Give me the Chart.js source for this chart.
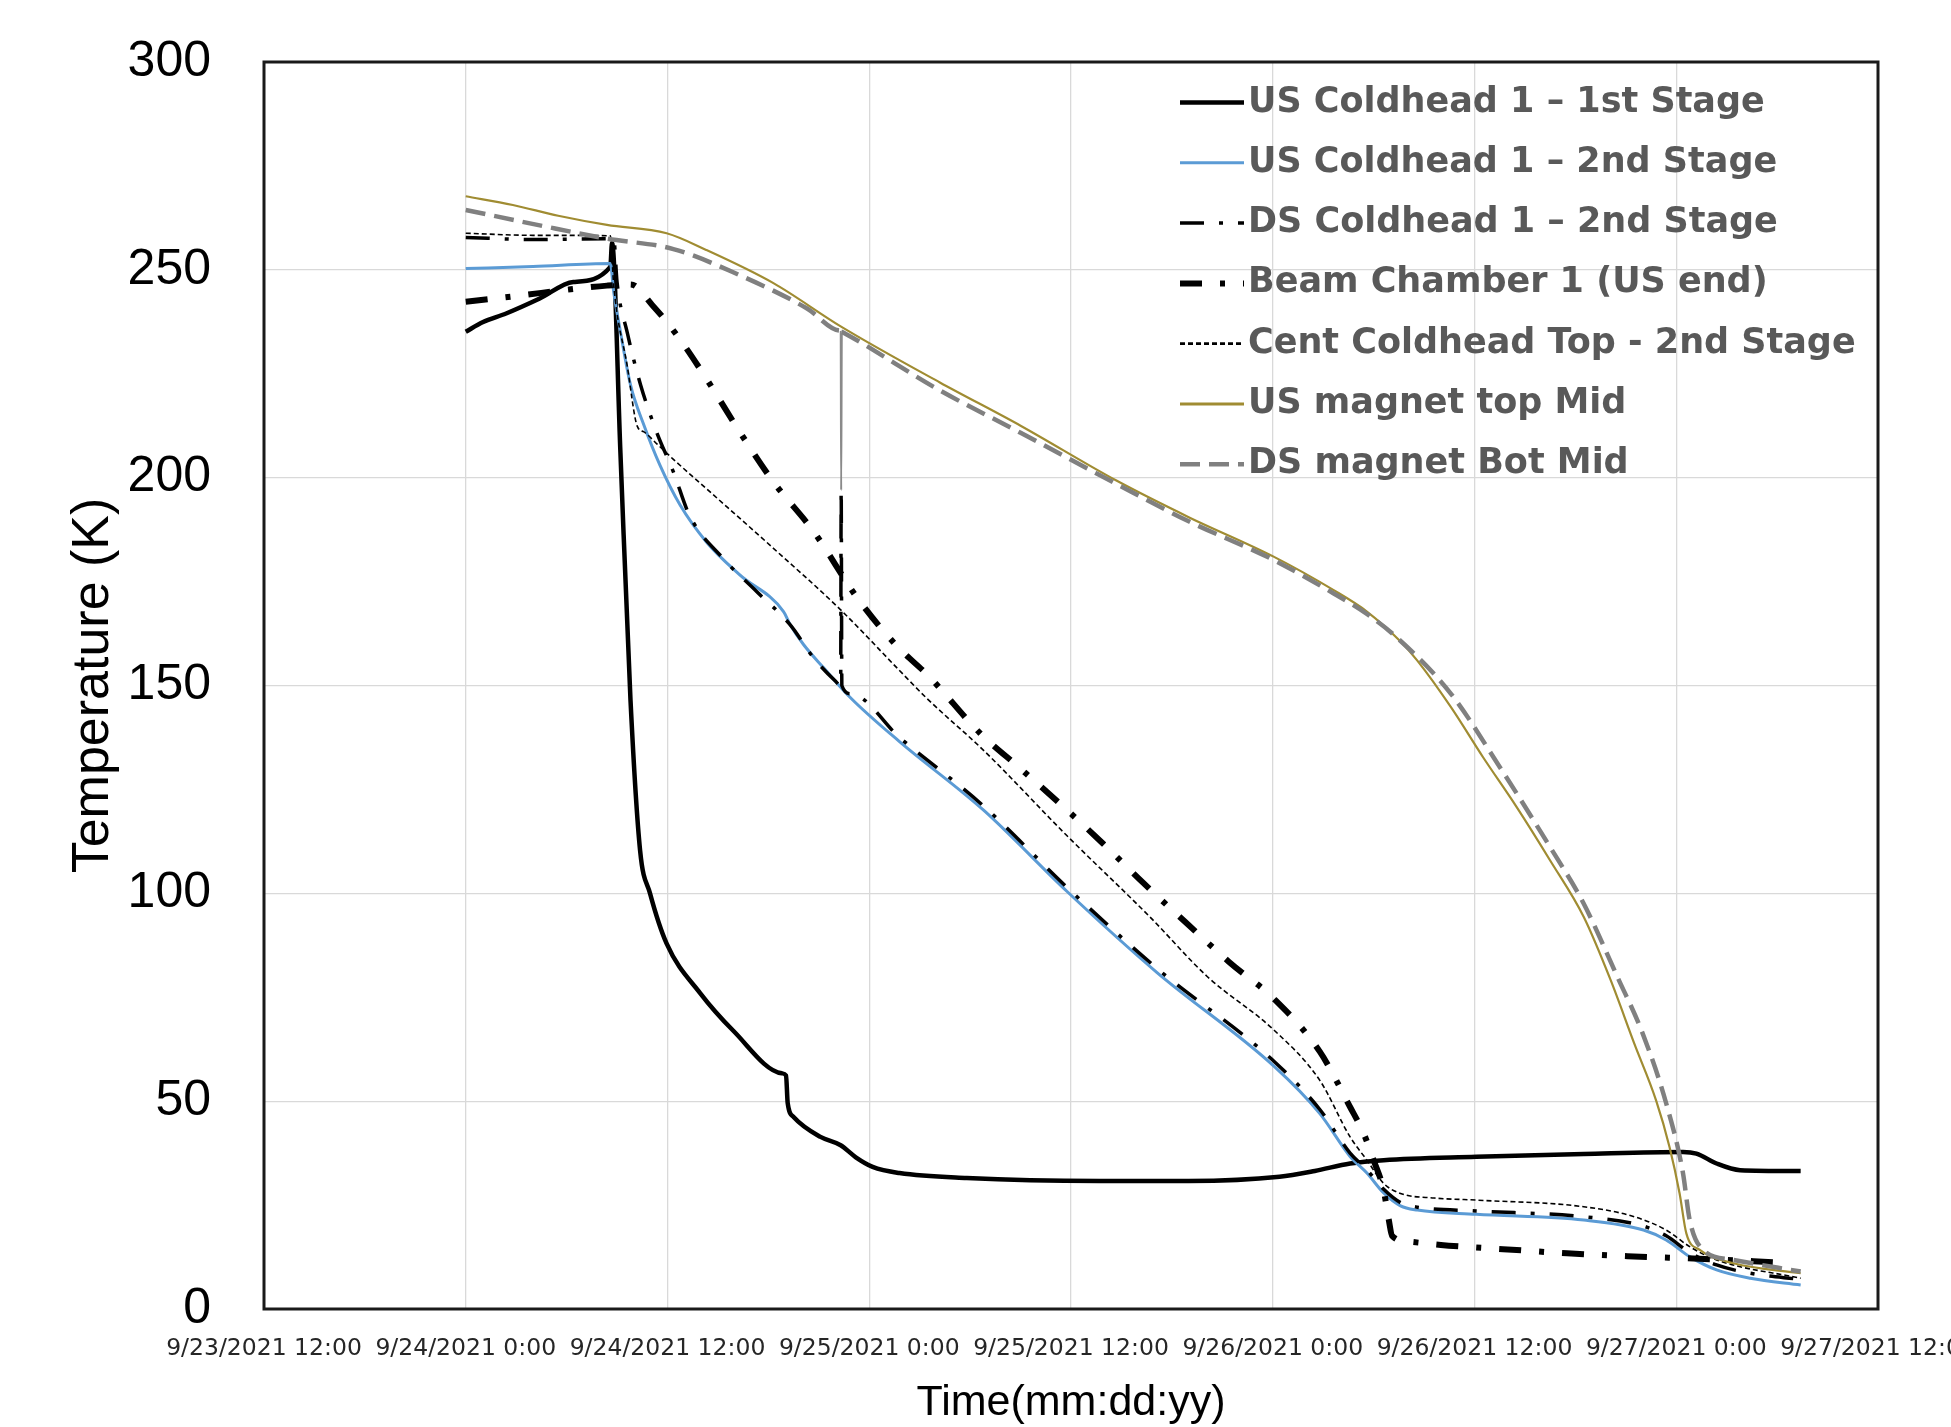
<!DOCTYPE html>
<html>
<head>
<meta charset="utf-8">
<title>Cooldown temperatures</title>
<script src="https://cdn.jsdelivr.net/npm/chart.js@4.4.1/dist/chart.umd.min.js"></script>
<style>
  html, body { margin: 0; padding: 0; background: #fff; overflow: hidden; }
  canvas { display: block; }
</style>
</head>
<body>
<canvas id="coolDownChart" width="1951" height="1427"></canvas>
<script>
// x = hours since 9/23/2021 12:00, y = temperature (K)
const xTickLabels = ['9/23/2021 12:00', '9/24/2021 0:00', '9/24/2021 12:00', '9/25/2021 0:00',
    '9/25/2021 12:00', '9/26/2021 0:00', '9/26/2021 12:00', '9/27/2021 0:00', '9/27/2021 12:00'];

const seriesNames = ['US Coldhead 1 \u2013 1st Stage', 'US Coldhead 1 \u2013 2nd Stage', 'DS Coldhead 1 \u2013 2nd Stage',
    'Beam Chamber 1 (US end)', 'Cent Coldhead Top - 2nd Stage', 'US magnet top Mid', 'DS magnet Bot Mid'];

const usColdhead1st = [[12, 235.1], [13, 237.4], [14.4, 239.5], [16.4, 243.1], [18.4, 247.1], [20.6, 250.7],
    [20.7, 256.5], [21.2, 206], [21.8, 146.4], [22.37, 110.3], [22.96, 100], [23.95, 87.9], [25.94, 76],
    [27.9, 67], [30.8, 56.7], [31.05, 56.2], [31.15, 49.5], [31.5, 46.2], [33.1, 41.4], [34.3, 39.4],
    [35.2, 36.5], [36.2, 34.2], [37.8, 32.7], [41.8, 31.5], [49.7, 30.8], [55, 30.8], [60.4, 31.8],
    [62.5, 33.2], [64.6, 35.0], [66.6, 35.8], [72.1, 36.6], [78.5, 37.3], [84.4, 37.8], [85.2, 37.4],
    [86.4, 35], [87.8, 33.4], [91.4, 33.2]];

const usColdhead2nd = [[12, 250.3], [16, 250.8], [20.6, 251.5], [20.8, 244.7], [21.2, 235.1], [21.8, 222.3],
    [22.6, 212.6], [23.55, 203], [24.75, 193.4], [26.3, 184.6], [28.3, 176.6], [30.9, 167.8], [31.3, 164.6],
    [32.1, 159.8], [33.3, 154.2], [34.9, 147], [37.8, 136.5], [42.8, 120], [47.75, 100.5], [53.1, 81],
    [60.1, 58.3], [62.8, 47], [64.6, 36.7], [65.6, 32.7], [66.6, 27.9], [67.6, 24.8], [68.6, 23.8],
    [72.1, 22.8], [78.5, 21.4], [82.05, 19], [83.4, 16.6], [84.8, 12.6], [86.4, 9.4], [88.4, 7.4], [91.4, 5.8]];

const dsColdhead2nd = [[12, 257.8], [16, 257.3], [20.8, 257.5], [21.0, 247], [21.6, 235], [22.4, 222.3],
    [23.35, 211], [24.35, 201.4], [25.3, 191], [27.3, 180.6], [29.3, 172.6], [31.3, 164.6], [32.7, 156.6],
    [34.0, 151], [34.3, 150], [34.33, 197], [34.37, 150], [34.9, 148], [37.8, 137.5], [42.8, 121],
    [47.75, 101.5], [53.1, 82], [60.1, 59.5], [62.8, 48], [64.6, 37.5], [65.6, 33.5], [66.6, 28.8],
    [67.6, 25.6], [68.6, 24.5], [72.1, 23.6], [78.5, 22.2], [82, 20], [83.4, 17.6], [84.8, 13.6],
    [86.4, 10.6], [88.4, 8.6], [91.4, 7.1]];

const beamChamber = [[12, 242.3], [15.4, 243.9], [18, 245.2], [20.4, 246.2], [21.8, 246.5], [23.1, 241.5],
    [24.7, 233.5], [26.3, 223.9], [28.3, 211], [30.3, 199], [32.7, 187], [35.3, 171], [37.6, 159.7],
    [39.6, 152], [42.6, 138.5], [45, 130], [47.5, 121], [49.9, 112], [52.3, 102.5], [54.8, 93.1],
    [57.4, 83.5], [60.1, 74.5], [62.8, 61.9], [64.6, 48.6], [65.4, 42.3], [66.0, 35.8], [66.6, 28.5],
    [66.9, 21.5], [67.1, 17.6], [68.1, 16.2], [70, 15.4], [71.7, 14.9], [73.7, 14.4], [77.5, 13.4],
    [81.1, 12.7], [84.6, 12.2], [88.6, 11.5], [90.5, 11.1]];

const centColdheadTop = [[12, 258.8], [16, 258.3], [20.6, 258.2], [20.8, 246.3], [21.6, 227], [22.2, 212.4],
    [22.6, 211], [23.4, 208], [24.3, 204.6], [26.3, 197.4], [30.3, 183], [34.3, 168.2], [37.8, 153.6],
    [39.4, 147], [42.8, 134.4], [47.75, 113.9], [52.7, 94.3], [56.1, 80], [60.1, 67], [62.8, 55],
    [64.6, 41.4], [65.6, 35.8], [66.6, 30.2], [67.6, 27.8], [69.6, 26.7], [72.1, 26.2], [78.5, 24.6],
    [81.5, 22.2], [83.4, 19], [84.8, 15], [86.4, 11.8], [91.4, 7.4]];

const usMagnetTop = [[12, 267.7], [14.8, 265.6], [17.5, 263], [20.4, 260.8], [23.95, 258.8], [26.3, 254.8],
    [30.3, 246.8], [34.3, 236.4], [40.2, 222.9], [45, 212.5], [50.7, 199.3], [55, 190.5], [60.05, 181],
    [63.6, 173], [65.6, 167.8], [67.6, 160.6], [68.6, 156], [70.6, 144.8], [72.5, 132.8], [74.5, 120.8],
    [76.5, 107.9], [78.5, 94.3], [80.1, 79.1], [81.5, 63.9], [82.8, 50.2], [83.6, 39], [84.2, 27.8],
    [84.6, 18.2], [85.4, 14.2], [87.4, 11], [91.4, 8.6]];

const dsMagnetBot = [[12, 264.4], [16.4, 260.7], [20.4, 257.5], [24.35, 255], [28.3, 248.7], [32.3, 240.7],
    [34.27, 235.4], [34.3, 235.3], [34.33, 197], [34.37, 235.1], [34.42, 235], [40.2, 221], [45, 210.8],
    [50.7, 198.5], [55, 189.5], [60.05, 180.2], [63.6, 172.2], [65.6, 167.2], [67.2, 162.2], [70.6, 148],
    [73.5, 130.4], [76.5, 111.1], [78.5, 97.5], [80.5, 79.9], [82.0, 66.3], [83.4, 49.5], [84.4, 32.7],
    [84.8, 21.4], [85.6, 14.2], [87.4, 11.8], [91.4, 9]];

const allSeries = [usColdhead1st, usColdhead2nd, dsColdhead2nd, beamChamber, centColdheadTop, usMagnetTop, dsMagnetBot];
const lineColors = ['#000000', '#5B9BD5', '#000000', '#000000', '#000000', '#A08C32', '#808080'];
const lineWidths = [4.5, 3, 3.5, 6, 1.6, 2.2, 4.5];
const lineDashes = [[], [], [24, 15, 4, 15], [22, 18, 5, 18], [5, 3], [], [20, 9]];

// the one-sample drop-out of the DS magnet sensor shows as a thin solid stroke
function isDropout(seg) {
    return Math.abs(seg.p1.parsed.x - seg.p0.parsed.x) < 0.045 &&
        Math.abs(seg.p1.parsed.y - seg.p0.parsed.y) > 20;
}

// Legend drawn inside the plot, like the original
const insideLegend = {
    id: 'insideLegend',
    afterDraw(chart) {
        const ctx = chart.ctx;
        const area = chart.chartArea;
        const x0 = area.left + 916;
        const y0 = area.top + 40.5;
        ctx.save();
        chart.data.datasets.forEach(function (ds, i) {
            const y = y0 + i * 60.3;
            ctx.beginPath();
            ctx.setLineDash(ds.borderDash);
            ctx.lineWidth = Math.max(ds.borderWidth, 2.8);
            ctx.strokeStyle = ds.borderColor;
            ctx.moveTo(x0, y);
            ctx.lineTo(x0 + 64, y);
            ctx.stroke();
            ctx.setLineDash([]);
            ctx.fillStyle = '#595959';
            ctx.font = 'bold 35px "DejaVu Sans"';
            ctx.textBaseline = 'middle';
            ctx.textAlign = 'left';
            ctx.fillText(ds.label, x0 + 68, y);
        });
        ctx.restore();
    }
};

// Black frame around the plot area
const plotFrame = {
    id: 'plotFrame',
    afterDraw(chart) {
        const ctx = chart.ctx;
        const a = chart.chartArea;
        ctx.save();
        ctx.strokeStyle = '#1a1a1a';
        ctx.lineWidth = 3;
        ctx.strokeRect(a.left, a.top, a.right - a.left, a.bottom - a.top);
        ctx.restore();
    }
};

new Chart(document.getElementById('coolDownChart').getContext('2d'), {
    type: 'line',
    data: {
        datasets: allSeries.map(function (pts, i) {
            const ds = {
                label: seriesNames[i],
                data: pts.map(function (p) { return { x: p[0], y: p[1] }; }),
                borderColor: lineColors[i],
                borderWidth: lineWidths[i],
                borderDash: lineDashes[i],
                order: allSeries.length - i,
                pointRadius: 0,
                fill: false
            };
            if (pts === dsMagnetBot) {
                ds.segment = {
                    borderDash: function (seg) { return isDropout(seg) ? [] : undefined; },
                    borderWidth: function (seg) { return isDropout(seg) ? 2 : undefined; },
                    borderColor: function (seg) { return isDropout(seg) ? '#8a8a8a' : undefined; }
                };
            }
            return ds;
        })
    },
    options: {
        responsive: false,
        animation: false,
        layout: { padding: { left: 62, right: 73, top: 62, bottom: 0 } },
        elements: { line: { cubicInterpolationMode: 'monotone' } },
        plugins: { legend: { display: false }, tooltip: { enabled: false } },
        scales: {
            x: {
                type: 'linear',
                min: 0,
                max: 96,
                ticks: {
                    stepSize: 12,
                    autoSkip: false,
                    maxRotation: 0,
                    padding: 26,
                    color: '#262626',
                    font: { family: 'DejaVu Sans', size: 23.5 },
                    callback: function (value) { return xTickLabels[Math.round(value / 12)]; }
                },
                grid: { color: '#D9D9D9', lineWidth: 1.3, drawTicks: false },
                border: { display: false },
                title: {
                    display: true,
                    text: 'Time(mm:dd:yy)',
                    color: '#000',
                    font: { family: 'Liberation Sans', size: 43, lineHeight: 1.1 },
                    padding: 0
                },
                afterFit: function (scale) {
                    scale.height = 118;
                    scale.paddingLeft = 0;
                    scale.paddingRight = 0;
                }
            },
            y: {
                min: 0,
                max: 300,
                ticks: {
                    stepSize: 50,
                    padding: 53,
                    color: '#000',
                    font: { family: 'Liberation Sans', size: 50 }
                },
                grid: { color: '#D9D9D9', lineWidth: 1.3, drawTicks: false },
                border: { display: false },
                title: {
                    display: true,
                    text: 'Temperature (K)',
                    color: '#000',
                    font: { family: 'Liberation Sans', size: 52, lineHeight: 1.2 },
                    padding: 0
                },
                afterFit: function (scale) {
                    scale.width = 202;
                    scale.paddingTop = 0;
                    scale.paddingBottom = 0;
                }
            }
        }
    },
    plugins: [insideLegend, plotFrame]
});
</script>
</body>
</html>
